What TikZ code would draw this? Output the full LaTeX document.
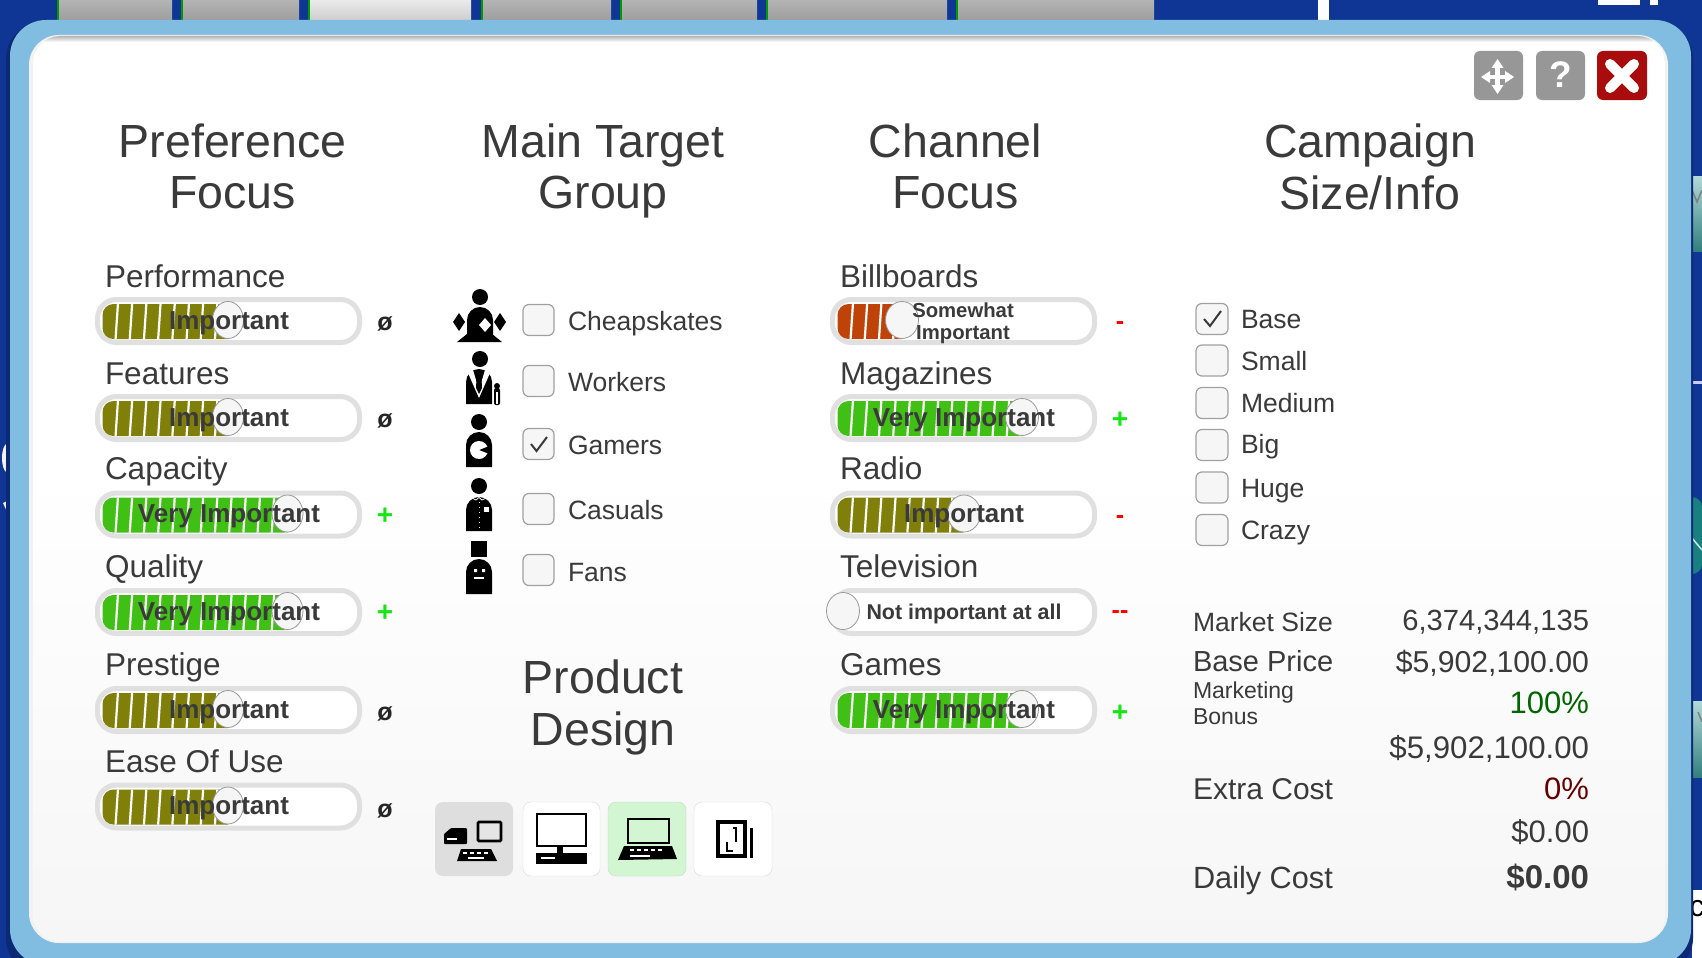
\documentclass[tikz,border=0pt]{standalone}
\usepackage{fontspec}
\setmainfont{Liberation Sans}
\usetikzlibrary{shapes.geometric}
\definecolor{deepblue}{HTML}{0F3694}
\definecolor{frameblue}{HTML}{80BDE0}
\definecolor{ink}{HTML}{3A3A3A}
\definecolor{olivebar}{HTML}{7F7F0A}
\definecolor{rustbar}{HTML}{BF4308}
\definecolor{greenbar}{HTML}{40BF14}
\definecolor{trackgray}{HTML}{E0E0E0}
\definecolor{boxedge}{HTML}{A0A0A0}
\definecolor{boxfill}{HTML}{F6F6F6}
\definecolor{plusgreen}{HTML}{14E614}
\definecolor{btngray}{HTML}{979797}
\definecolor{btnred}{HTML}{A80C0C}
\definecolor{tilegreen}{HTML}{D2F5D2}
\newcommand{\fs}[1]{\fontsize{#1}{#1}\selectfont}
\tikzset{
  x=1pt,y=-1pt,
  txt/.style={inner sep=0pt,outer sep=0pt,text=ink,execute at begin node={\vphantom{Ap}}},
  head/.style={txt,font=\fs{46.5}},
  lab/.style={txt,font=\fs{31.5},anchor=west},
  opt/.style={txt,font=\fs{26.5},anchor=west},
  val/.style={txt,anchor=east},
  key/.style={txt,anchor=west},
  track/.style={draw=trackgray,line width=5pt,fill=white,rounded corners=19pt},
  knob/.style={draw=gray!80,line width=.8pt,fill=boxfill},
  cbox/.style={draw=boxedge,line width=1.2pt,fill=boxfill,rounded corners=6pt},
  sym/.style={inner sep=0pt,font=\bfseries\fs{25}},
  btn/.style={rounded corners=6pt},
  tile/.style={rounded corners=8pt,fill=#1},
}
% name, outer left x, centre y, knob x, bar colour, knob width
\newcommand{\slider}[6]{%
  \draw[track] (#2+2.5,#3-21.5) rectangle (#2+264.5,#3+21.5);
  \begin{scope}
    \clip[rounded corners=11pt] (#2+7.5,#3-17) rectangle (#4+12,#3+18);
    \clip (#2,#3-20) rectangle (#4,#3+20);
    \fill[#5] (#2,#3-20) rectangle (#4,#3+20);
    \foreach \k in {0,...,17}
      \draw[white,line width=2.2pt] (#2+20.5+14.2*\k,#3+19) -- (#2+23+14.2*\k,#3-18);
  \end{scope}
  \node[knob,ellipse,minimum width=#6,minimum height=37pt,inner sep=0pt] (#1) at (#4,#3-1) {};
}
\newcommand{\person}[3]{% centre x, top of body, bottom of body
  \fill[black] (#1-13,#3) -- (#1-13,#2+13) arc[start angle=180,end angle=360,radius=13] -- (#1+13,#3) -- cycle;
}
\begin{document}
\begin{tikzpicture}
\useasboundingbox (0,0) rectangle (1702,958);
\clip (0,0) rectangle (1702,958);
% backdrop
\fill[deepblue] (0,0) rectangle (1702,958);
\fill[white] (1318,0) rectangle (1329,20);
\foreach \a/\b/\c in {58/172/B4B4B4,182/299/B4B4B4,309/471/EAEAEA,482/611/B4B4B4,621/757/B4B4B4,767/947/B4B4B4,957/1154/B4B4B4}{
  \definecolor{tc}{HTML}{\c}
  \fill[top color=tc,bottom color=tc!88!black] (\a,0) rectangle (\b,20);
  \fill[green!60!black] (\a-.7,0) rectangle (\a+.7,20);
}
% cut-off glyphs behind the panel
\fill[white] (1598,0) rectangle (1640,5);
\fill[white] (1650,0) rectangle (1658,5);
\draw[white,line width=4pt] (1673,-3) arc[start angle=180,end angle=360,x radius=13,y radius=6];
\draw[white!90!gray,line width=6pt] (9,470) arc[start angle=90,end angle=270,x radius=4,y radius=12];
\fill[white!85!gray] (3,503) -- (9,500) -- (9,516) -- cycle;
% right-hand remnants
\fill[top color=teal!30!white,bottom color=teal!60!gray] (1690,176) rectangle (1702,251);
\draw[gray,line width=1.5pt] (1692,190) -- (1697,202) -- (1702,190);
\fill[top color=teal!30!white,bottom color=teal!60!gray] (1690,701) rectangle (1702,777);
\draw[gray,line width=1.5pt] (1698,712) -- (1702,722);
\fill[teal!80!gray,rounded corners=10pt] (1680,497) rectangle (1702,574);
\draw[white!80!teal,line width=1.5pt] (1692,538) -- (1702,550);
\fill[blue!20!white] (1692,381) rectangle (1702,384);
\fill[white] (1692,890) rectangle (1702,958);
\begin{scope}
  \clip (1692,890) rectangle (1702,958);
  \node[txt,text=black,font=\fs{30}] (frag) at (1697,909) {c};
\end{scope}
% panel
\fill[deepblue!78!black,rounded corners=37pt] (6,22) rectangle (1693,975);
\fill[frameblue,rounded corners=36pt] (10,20) rectangle (1691,965);
\fill[white!90!gray,rounded corners=30pt] (29,35) rectangle (1668,943);
\begin{scope}
  \clip[rounded corners=27pt] (33,36) rectangle (1665,941);
  \fill[white] (33,36) rectangle (1665,941);
  \shade[top color=white,bottom color=white!96.5!black] (33,470) rectangle (1665,941);
  \shade[top color=black!34,bottom color=white] (33,35) rectangle (1665,42);
\end{scope}
% window buttons
\fill[btn,fill=btngray] (1474,51) rectangle (1523,100);
\fill[btn,fill=btngray] (1536,51) rectangle (1585,100);
\fill[btn,fill=btnred] (1597,51) rectangle (1647,100);
\draw[white,line width=4.5pt] (1487,77) -- (1508,77) (1497.5,66) -- (1497.5,87);
\fill[white] (1481,77) -- (1490,71) -- (1490,83) -- cycle (1514,77) -- (1505,71) -- (1505,83) -- cycle
  (1497.5,59) -- (1491.5,68) -- (1503.5,68) -- cycle (1497.5,94) -- (1491.5,85) -- (1503.5,85) -- cycle;
\node[inner sep=0pt,text=white,font=\bfseries\fs{37}] (help) at (1561,75) {?};
\draw[white,line width=10pt,line cap=round] (1610,64) -- (1634,88) (1634,64) -- (1610,88);
% headings
\node[head] (h1a) at (232.5,145) {Preference};
\node[head] (h1b) at (232.5,197.3) {Focus};
\node[head] (h2a) at (603,145) {Main Target};
\node[head] (h2b) at (603,197.3) {Group};
\node[head] (h3a) at (955.5,145) {Channel};
\node[head] (h3b) at (955.5,197.3) {Focus};
\node[head] (h4a) at (1370,145) {Campaign};
\node[head] (h4b) at (1370,197.3) {Size/Info};
\node[head] (h5a) at (603,681.5) {Product};
\node[head] (h5b) at (603,733.5) {Design};
% preference focus
\foreach \n/\t/\ly/\sy/\kx/\c/\v in {
  a/Performance/279.6/321/228/olivebar/Important,
  b/Features/376.6/418/228/olivebar/Important,
  c/Capacity/471.5/514.5/287.5/greenbar/Very Important,
  d/Quality/569.6/612/287.5/greenbar/Very Important,
  e/Prestige/667.6/710/228/olivebar/Important,
  f/Ease Of Use/764.5/806.5/228/olivebar/Important}{
  \node[lab] (l\n) at (105,\ly) {\t};
  \slider{k\n}{95}{\sy}{\kx}{\c}{31pt}
  \node[txt,font=\bfseries\fs{26}] (t\n) at (229,\sy+2) {\v};
}
\node[sym,text=black!85] (sa) at (385,324) {ø};
\node[sym,text=black!85] (sb) at (385,421) {ø};
\node[sym,text=plusgreen,font=\bfseries\fs{28}] (sc) at (385,516) {+};
\node[sym,text=plusgreen,font=\bfseries\fs{28}] (sd) at (385,613) {+};
\node[sym,text=black!85] (se) at (385,714) {ø};
\node[sym,text=black!85] (sf) at (385,811) {ø};
% channel focus
\node[lab] (lg) at (840,279.6) {Billboards};
\slider{kg}{830}{321}{902}{rustbar}{33pt}
\node[txt,font=\bfseries\fs{20.3},align=center] (tg) at (963,323) {Somewhat\\[1.5pt]Important};
\node[lab] (lh) at (840,376.6) {Magazines};
\slider{kh}{830}{418}{1022}{greenbar}{33pt}
\node[txt,font=\bfseries\fs{26}] (th) at (964,420) {Very Important};
\node[lab] (li) at (840,471.5) {Radio};
\slider{ki}{830}{514.5}{964}{olivebar}{33pt}
\node[txt,font=\bfseries\fs{26}] (ti) at (964,516.5) {Important};
\node[lab] (lj) at (840,569.6) {Television};
\slider{kj}{830}{612}{843}{white}{33pt}
\node[txt,font=\bfseries\fs{21.4}] (tj) at (964,614) {Not important at all};
\node[lab] (lk) at (840,667.6) {Games};
\slider{kk}{830}{710}{1022}{greenbar}{33pt}
\node[txt,font=\bfseries\fs{26}] (tk) at (964,712) {Very Important};
\node[sym,text=red] (sg) at (1120,326) {-};
\node[sym,text=plusgreen,font=\bfseries\fs{28}] (sh) at (1120,420) {+};
\node[sym,text=red] (si) at (1120,520) {-};
\node[sym,text=red] (sj) at (1120,615) {-{}-};
\node[sym,text=plusgreen,font=\bfseries\fs{28}] (sk) at (1120,713) {+};
% target group check boxes
\foreach \n/\t/\y/\ty in {ca/Cheapskates/320/323.5,cb/Workers/381/384.8,cc/Gamers/444/447.8,cd/Casuals/509/512.8,ce/Fans/570/574.8}{
  \draw[cbox] (523,\y-15.5) rectangle (554,\y+15.5);
  \node[opt] (\n) at (568,\ty) {\t};
}
\draw[ink,line width=2pt] (531,444) -- (536.5,451) -- (547,437);
% icons
\fill[black] (480,297) circle (8);
\person{480}{307}{337}
\fill[black] (457,342) -- (467,334) -- (492,334) -- (502,342) -- cycle;
\fill[black] (459,313) -- (465,322) -- (459,331) -- (453,322) -- cycle
  (500,313) -- (506,322) -- (500,331) -- (494,322) -- cycle;
\fill[white] (485,318) -- (491,325) -- (485,332) -- (479,325) -- cycle;
\fill[black] (480,359) circle (8);
\person{479}{369}{404}
\fill[white] (468,373) -- (479,398) -- (490,373) -- (485,370) -- (479,390) -- (473,370) -- cycle;
\fill[black] (477,370) -- (481,370) -- (482,388) -- (479,394) -- (476,388) -- cycle;
\fill[black] (497,386) circle (3);
\fill[black,rounded corners=2pt] (494,388) rectangle (500,405);
\fill[white] (496,392) rectangle (498,404);
\fill[black] (479,422) circle (8);
\person{479}{432}{467}
\fill[white] (479,450) -- ++(22:9) arc[start angle=22,end angle=338,radius=9] -- cycle;
\fill[black] (479,486) circle (8);
\person{479}{497}{531}
\fill[white] (484,507) rectangle (488.5,511.5);
\foreach \yy in {502,507,512,517,522,527}{\fill[white] (478.5,\yy) rectangle (479.5,\yy+1);}
\draw[white,line width=.8pt] (472,498) -- (476,500) -- (479,497.5) -- (482,500) -- (486,498);
\fill[black] (471,541) rectangle (487,557);
\person{479}{559}{594}
\fill[white] (474,569) rectangle (477,572) (482,569) rectangle (485,572);
\fill[white] (474,577) rectangle (484,579);
% product design tiles
\fill[tile=black!13] (435,802) rectangle (513,876);
\draw[tile=white,draw=black!15] (523,802) rectangle (600,876);
\draw[tile=tilegreen,draw=green!40!gray!40] (608,802) rectangle (686,876);
\draw[tile=white,draw=black!15] (694,802) rectangle (772,876);
% tile 1
\draw[black,line width=2.6pt,fill=black!10,rounded corners=1pt] (478,822) rectangle (501,841);
\fill[black,rounded corners=1pt] (444,834) -- (451,828) -- (467,828) -- (467,844) -- (444,844) -- cycle;
\fill[white] (447,838) rectangle (457,840);
\fill[black] (457,861) -- (461,849) -- (491,849) -- (497,861) -- cycle;
\foreach \kx in {463,470,477,484}{\fill[white] (\kx,852) rectangle (\kx+4,853.5);}
\fill[white] (468,857) rectangle (484,858.5);
% tile 2
\draw[black,line width=2pt,fill=white] (537,814) rectangle (586,846);
\fill[black] (557,846) rectangle (563,853);
\fill[black] (536,853) rectangle (587,864);
\fill[white] (541,857) rectangle (555,858.5);
% tile 3
\draw[black,line width=2.6pt] (628,819) rectangle (669,843);
\fill[black] (624,846) -- (672,846) -- (677,859) -- (618,860) -- cycle;
\foreach \kx in {630,637,644,651,658}{\fill[white] (\kx,849) rectangle (\kx+4,850.5);}
\fill[white] (630,855) rectangle (650,856.5);
% tile 4
\draw[black,line width=4pt] (718,822) rectangle (745,856);
\draw[black,line width=2pt] (733,828) -- (736,828) -- (736,842);
\draw[black,line width=1.5pt] (727,842) -- (727,851) -- (733,851);
\draw[black,line width=2.4pt] (751.5,828) -- (751.5,858);
% campaign size
\foreach \n/\t/\y/\ty in {oa/Base/319/322.5,ob/Small/360.5/363.3,oc/Medium/403/405.8,od/Big/445/447,oe/Huge/487.5/491,of/Crazy/530/533}{
  \draw[cbox] (1196,\y-15.5) rectangle (1228,\y+15.5);
  \node[opt] (\n) at (1241,\ty) {\t};
}
\draw[ink,line width=2pt] (1204,319) -- (1210,326) -- (1221,311);
% campaign info
\node[key,font=\fs{26.5}] (k1) at (1193,624.8) {Market Size};
\node[key,font=\fs{29}] (k2) at (1193,664) {Base Price};
\node[key,font=\fs{23}] (k3) at (1193,692.5) {Marketing};
\node[key,font=\fs{23}] (k4) at (1193,719) {Bonus};
\node[key,font=\fs{30}] (k5) at (1193,792) {Extra Cost};
\node[key,font=\fs{30.7}] (k6) at (1193,881) {Daily Cost};
\node[val,font=\fs{29.2}] (v1) at (1589,623.4) {6,374,344,135};
\node[val,font=\fs{30.2}] (v2) at (1589,664.5) {\$5,902,100.00};
\node[val,font=\fs{31},text=green!40!black] (v3) at (1589,706) {100\%};
\node[val,font=\fs{31.2}] (v4) at (1589,750) {\$5,902,100.00};
\node[val,font=\fs{31},text=red!40!black] (v5) at (1589,792.3) {0\%};
\node[val,font=\fs{31}] (v6) at (1589,834.5) {\$0.00};
\node[val,font=\bfseries\fs{33}] (v7) at (1589,880) {\$0.00};
\end{tikzpicture}
\end{document}
